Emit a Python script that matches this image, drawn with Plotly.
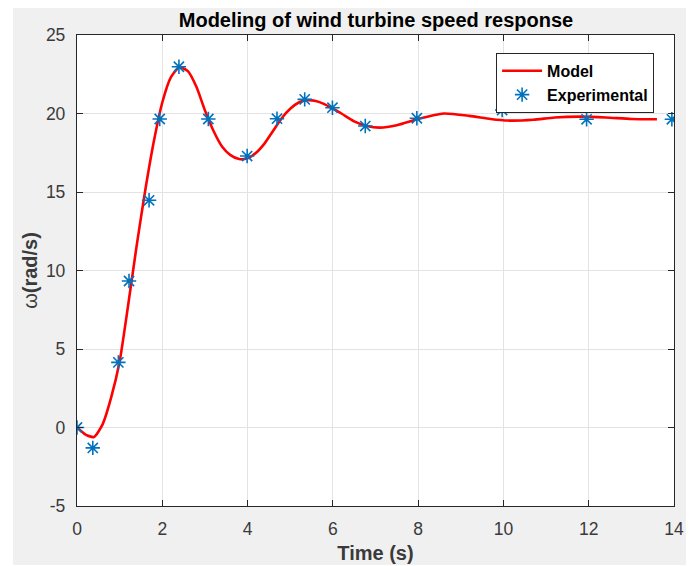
import plotly.graph_objects as go

# Model curve
model_t = [0, 0.2, 0.4, 0.6, 0.8, 1.0, 1.2, 1.4, 1.6, 1.8, 2.0, 2.2, 2.4, 2.6, 2.8,
           3.0, 3.2, 3.4, 3.6, 3.8, 4.0, 4.2, 4.4, 4.6, 4.8, 5.0, 5.2, 5.4, 5.6, 5.8,
           6.0, 6.2, 6.5, 6.8, 7.1, 7.5, 8.0, 8.6, 9.2, 9.7, 10.1, 10.7, 11.2, 11.8,
           12.4, 13.0, 13.6]
model_w = [0, -0.45, -0.6, 0.2, 1.9, 4.2, 7.8, 11.6, 15.1, 18.2, 20.7, 22.3, 22.95, 22.7, 21.7,
           20.2, 18.9, 17.9, 17.35, 17.1, 17.15, 17.5, 18.1, 18.9, 19.7, 20.3, 20.7, 20.85, 20.8, 20.6,
           20.3, 20.0, 19.5, 19.2, 19.1, 19.25, 19.65, 20.0, 19.85, 19.65, 19.55, 19.6, 19.75, 19.8,
           19.75, 19.65, 19.63]

# Experimental points
exp_t = [0, 0.37, 0.97, 1.22, 1.69, 1.94, 2.39, 3.08, 3.99, 4.69, 5.34, 5.99, 6.76, 7.97,
         9.97, 11.95, 13.95]
exp_w = [0, -1.3, 4.15, 9.33, 14.47, 19.65, 22.98, 19.65, 17.29, 19.67, 20.9, 20.37, 19.2, 19.7,
         20.22, 19.63, 19.63]

x_ticks = [0, 2, 4, 6, 8, 10, 12, 14]
y_ticks = [-5, 0, 5, 10, 15, 20, 25]

FONT = "Liberation Sans, Arial, Helvetica, sans-serif"
AX = "#262626"
TXT = "#3a3a3a"

# The page body has an 8px margin, so the figure is sized to fit the window.
W, H = 686, 558

fig = go.Figure()
fig.add_trace(go.Scatter(x=model_t, y=model_w, mode="lines", name="<b>Model</b>",
                         line=dict(color="#ff0000", width=2.6, shape="spline", smoothing=0.6)))
fig.add_trace(go.Scatter(x=exp_t, y=exp_w, mode="markers", name="<b>Experimental</b>",
                         marker=dict(symbol="asterisk-open", size=12, color="#0072BD",
                                     line=dict(color="#0072BD", width=1.6))))

axis_common = dict(showline=True, linecolor=AX, linewidth=1.3, mirror="ticks",
                   ticks="inside", ticklen=6, tickcolor=AX, tickwidth=1,
                   showgrid=True, gridcolor="#e3e3e3", gridwidth=1, zeroline=False,
                   automargin=False, ticklabelstandoff=7,
                   tickfont=dict(family=FONT, size=17.5, color=TXT))

fig.update_xaxes(range=[0, 14], tickvals=x_ticks, ticktext=[str(v) for v in x_ticks],
                 title=dict(text="<b>Time (s)</b>", font=dict(family=FONT, size=20, color=TXT),
                            standoff=7),
                 **axis_common)
fig.update_yaxes(range=[-5, 25], tickvals=y_ticks, ticktext=[str(v) for v in y_ticks],
                 title=dict(text="ω<b>(rad/s)</b>", font=dict(family=FONT, size=20, color=TXT),
                            standoff=2),
                 **axis_common)

fig.update_layout(
    width=W, height=H,
    margin=dict(l=69, r=20, t=27, b=60),
    paper_bgcolor="white", plot_bgcolor="white",
    title=dict(text="<b>Modeling of wind turbine speed response</b>",
               font=dict(family=FONT, size=20, color="#000000"),
               x=368 / W, xanchor="center", y=1 - 12 / H, yanchor="middle"),
    legend=dict(x=0.702, y=0.962, xanchor="left", yanchor="top",
                bgcolor="white", bordercolor="#262626", borderwidth=1,
                font=dict(family=FONT, size=16, color="#000000"),
                itemwidth=40, tracegroupgap=0),
    showlegend=True,
    shapes=[dict(type="path", xref="paper", yref="paper", layer="below",
                 path="M -0.1072 -0.1253 L 1.0235 -0.1253 L 1.0235 1.06 L -0.1072 1.06 Z "
                      "M 0 0 L 0 1 L 1 1 L 1 0 Z",
                 fillcolor="#f0f0f0", line=dict(width=0), fillrule="evenodd")],
)

fig.write_html("out.html")
